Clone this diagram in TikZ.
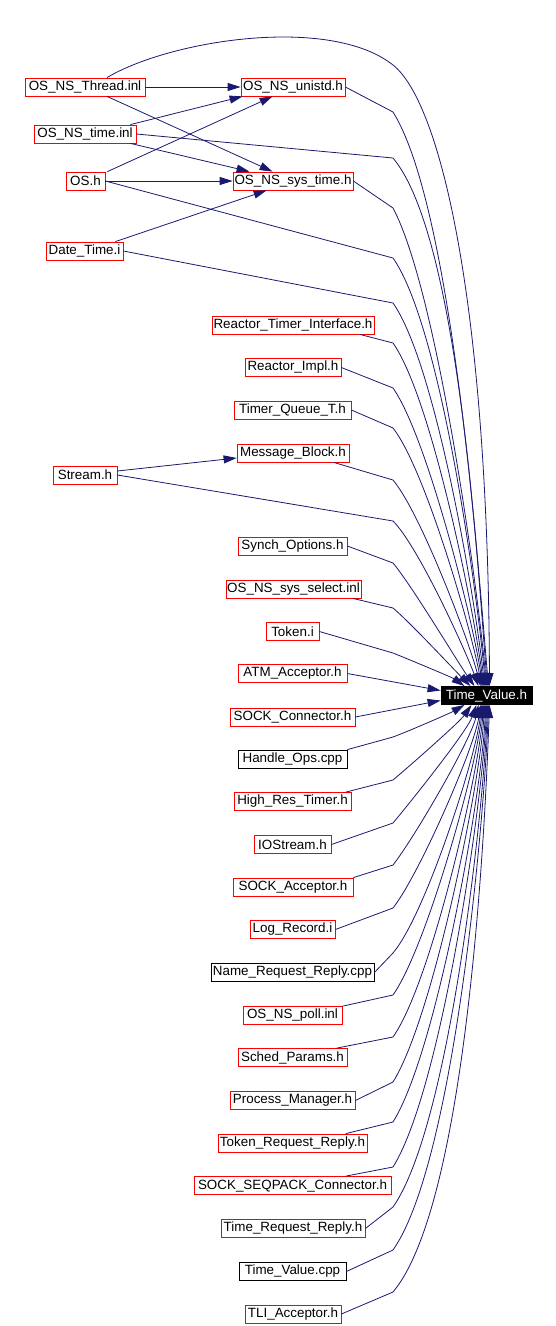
\documentclass[tikz,border=0pt]{standalone}
\usepackage{fontspec}
\setmainfont{Liberation Sans}
\usetikzlibrary{arrows.meta}
\definecolor{edgeblue}{HTML}{191970}
\begin{document}
\begin{tikzpicture}[x=1pt,y=1pt,
  hdr/.style={draw=red,line width=0.8pt,minimum height=18pt,inner sep=0pt,font=\fontsize{13.4}{15}\selectfont},
  impl/.style={hdr,draw=black},
  cur/.style={hdr,draw=black,fill=black,text=white},
  dep/.style={edgeblue,line width=0.8pt,-{Triangle[length=13pt,width=8pt]}}]
  \useasboundingbox (0,0) rectangle (556,-1326);
  \foreach \n/\x/\y/\w/\k/\lbl in {
    thread/85/87/120/hdr/OS\_NS\_Thread.inl,
    unistd/293/87/104/hdr/OS\_NS\_unistd.h,
    timeinl/85/134/102/hdr/OS\_NS\_time.inl,
    os/85.5/181/39/hdr/OS.h,
    systime/293/181/120/hdr/OS\_NS\_sys\_time.h,
    datetime/84.5/251/77/hdr/Date\_Time.i,
    rti/293/325/162/hdr/Reactor\_Timer\_Interface.h,
    rimpl/293/367.5/96/hdr/Reactor\_Impl.h,
    tqt/292.5/410/117/hdr/Timer\_Queue\_T.h,
    mblock/293/453/112/hdr/Message\_Block.h,
    stream/85/475/64/hdr/Stream.h,
    synch/292.5/546/109/hdr/Synch\_Options.h,
    sysselect/293.5/589/135/hdr/OS\_NS\_sys\_select.inl,
    token/292.5/631.5/53/hdr/Token.i,
    atm/292.5/673.5/109/hdr/ATM\_Acceptor.h,
    tv/486.5/695.5/91/cur/Time\_Value.h,
    sockconn/292.5/717/125/hdr/SOCK\_Connector.h,
    handle/292.5/759/109/impl/Handle\_Ops.cpp,
    hrt/292.5/801.5/117/hdr/High\_Res\_Timer.h,
    iostream/292.5/844.5/77/hdr/IOStream.h,
    sockacc/293/887/120/hdr/SOCK\_Acceptor.h,
    logrec/292.5/929.5/85/hdr/Log\_Record.i,
    namereq/292.5/972.5/163/impl/Name\_Request\_Reply.cpp,
    poll/292.5/1015/99/hdr/OS\_NS\_poll.inl,
    sched/292.5/1057.5/109/hdr/Sched\_Params.h,
    procman/292.5/1100.5/125/hdr/Process\_Manager.h,
    tokreq/292.5/1143/149/hdr/Token\_Request\_Reply.h,
    seqpack/292.5/1185.5/197/hdr/SOCK\_SEQPACK\_Connector.h,
    timereq/293/1228.5/144/hdr/Time\_Request\_Reply.h,
    tvcpp/292.5/1271.5/107/impl/Time\_Value.cpp,
    tli/293/1314/96/hdr/TLI\_Acceptor.h}
    \node[\k,minimum width=\w pt] (\n) at (\x,-\y) {\lbl};

  \draw[dep] (thread) -- (unistd);
  \draw[dep] ([xshift=22pt]thread.south) -- ([xshift=40pt]systime.north west);
  \draw[dep] ([xshift=-6pt]timeinl.north east) -- ([xshift=2pt]unistd.south west);
  \draw[dep] ([xshift=-6pt]timeinl.south east) -- ([xshift=17pt]systime.north west);
  \draw[dep] ([xshift=2pt]os.north east) -- ([xshift=32pt]unistd.south west);
  \draw[dep] (os) -- (systime);
  \draw[dep] ([xshift=-8pt]datetime.north east) -- ([xshift=34pt]systime.south west);
  \draw[dep] ([yshift=4pt]stream.east) -- ([yshift=-5pt]mblock.west);

  \draw[dep] ([xshift=22pt]thread.north) .. controls (170,-40) and (330,-15) .. (393,-65)
    .. controls (440,-102) and (488,-300) .. ([xshift=3pt]tv.north);
  \foreach \s/\a/\ky/\o/\i/\ex in {
    unistd/east/112/-58/95/2, timeinl/east/158/-50/95/1, systime/east/208/-62/95/0,
    os/east/258/-55/95/-1, datetime/east/303/-55/96/-2, rti/-8/343/-55/97/-3,
    rimpl/east/388/-55/98/-4, tqt/east/428/-52/100/-5, mblock/-13/480/-50/104/-6,
    stream/east/521/-45/110/-8, synch/east/563/-50/125/-12,
    sysselect/-9/608/-40/135/-16, token/east/653/-22/145/-22}
    \draw[dep] (\s.\a) -- (393,-\ky) to[out=\o,in=\i,looseness=0.5] ([xshift=\ex pt]tv.north);
  \draw[dep] (atm.east) -- ([yshift=5pt]tv.west);
  \draw[dep] (sockconn.east) -- ([yshift=-5pt]tv.west);
  \foreach \s/\a/\ky/\o/\i/\ex in {
    handle/north east/737/20/210/-22, hrt/10/780/40/235/-15, iostream/east/823/50/250/-10,
    sockacc/north east/865/52/258/-8, logrec/east/908/52/262/-6, namereq/east/953/50/264/-5,
    poll/10/995/55/265/-4, sched/12/1037/55/266/-3, procman/east/1082/58/267/-2,
    tokreq/10/1122/58/268/-1, seqpack/10/1167/58/268/0, timereq/east/1207/55/268/1,
    tvcpp/east/1250/55/268/2, tli/east/1292/50/268/3}
    \draw[dep] (\s.\a) -- (393,-\ky) to[out=\o,in=\i,looseness=0.5] ([xshift=\ex pt]tv.south);
\end{tikzpicture}
\end{document}
